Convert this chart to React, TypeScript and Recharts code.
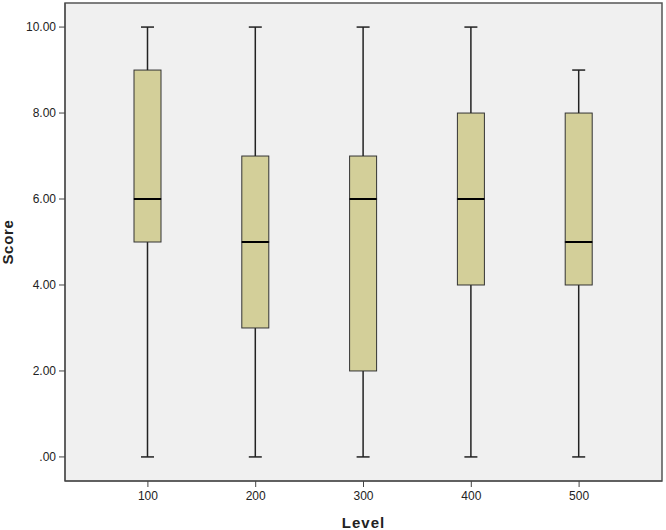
import {
  ComposedChart,
  Bar,
  XAxis,
  YAxis,
  CartesianGrid,
  ReferenceArea,
} from "recharts";

const levels = ["100", "200", "300", "400", "500"];
const mins = [0, 0, 0, 0, 0];
const q1s = [5, 3, 2, 4, 4];
const medians = [6, 5, 6, 6, 5];
const q3s = [9, 7, 7, 8, 8];
const maxs = [10, 10, 10, 10, 9];
const yTicks = [0, 2, 4, 6, 8, 10];
const yDomain = [-0.56, 10.56];

const data = levels.map((level, i) => ({
  level,
  base: mins[i],
  lowWhisker: q1s[i] - mins[i],
  lowBox: medians[i] - q1s[i],
  highBox: q3s[i] - medians[i],
  highWhisker: maxs[i] - q3s[i],
}));

const FONT = "'Liberation Sans', Arial, sans-serif";
const LINE = "#222";
const BOX_FILL = "#d3cf99";
const CAP = 13;

const LowWhisker = (p: any) => {
  const cx = p.x + p.width / 2;
  const bottom = p.y + p.height;
  return (
    <g>
      <line x1={cx} x2={cx} y1={p.y} y2={bottom} stroke={LINE} strokeWidth={1.5} />
      <line x1={cx - CAP / 2} x2={cx + CAP / 2} y1={bottom} y2={bottom} stroke={LINE} strokeWidth={1.5} />
    </g>
  );
};

const HighWhisker = (p: any) => {
  const cx = p.x + p.width / 2;
  return (
    <g>
      <line x1={cx} x2={cx} y1={p.y} y2={p.y + p.height} stroke={LINE} strokeWidth={1.5} />
      <line x1={cx - CAP / 2} x2={cx + CAP / 2} y1={p.y} y2={p.y} stroke={LINE} strokeWidth={1.5} />
    </g>
  );
};

const LowBox = (p: any) => (
  <rect x={p.x} y={p.y} width={p.width} height={p.height} fill={BOX_FILL} stroke="#333" strokeWidth={1} />
);

const HighBox = (p: any) => {
  const bottom = p.y + p.height;
  return (
    <g>
      <rect x={p.x} y={p.y} width={p.width} height={p.height} fill={BOX_FILL} stroke="#333" strokeWidth={1} />
      <line x1={p.x} x2={p.x + p.width} y1={bottom} y2={bottom} stroke="#000" strokeWidth={2} />
    </g>
  );
};

const fmt = (v: number) => (v === 0 ? ".00" : v.toFixed(2));

export default function App() {
  return (
    <div style={{ position: "absolute", left: 0, top: 0, background: "#fff" }}>
      <ComposedChart
        width={666}
        height={530}
        data={data}
        margin={{ top: 3, right: 4, bottom: 0, left: 0 }}
      >
        <CartesianGrid fill="#f0f0f0" horizontal={false} vertical={false} />
        <XAxis xAxisId="frame" dataKey="level" type="category" hide />
        <ReferenceArea
          xAxisId="frame"
          x1={levels[0]}
          x2={levels[levels.length - 1]}
          y1={yDomain[0]}
          y2={yDomain[1]}
          fill="none"
          fillOpacity={0}
          stroke="#555"
          strokeWidth={1.5}
          ifOverflow="visible"
        />
        <XAxis
          dataKey="level"
          type="category"
          padding={{ left: 29, right: 29 }}
          height={49}
          stroke="#444"
          tickSize={6}
          tickMargin={4}
          tick={{ fill: "#222", fontSize: 12, fontFamily: FONT }}
          label={{
            value: "Level",
            position: "insideBottom",
            offset: 2,
            style: { fontSize: 15, fontWeight: "bold", fill: "#222", fontFamily: FONT, letterSpacing: 1 },
          }}
        />
        <YAxis
          domain={yDomain}
          ticks={yTicks}
          tickFormatter={fmt}
          width={65}
          stroke="#444"
          tickSize={6}
          tickMargin={3}
          tick={{ fill: "#222", fontSize: 12, fontFamily: FONT }}
          label={{
            value: "Score",
            angle: -90,
            position: "insideLeft",
            offset: 8,
            style: { fontSize: 15, fontWeight: "bold", fill: "#222", fontFamily: FONT, textAnchor: "middle", letterSpacing: 0.7 },
          }}
        />
        <Bar dataKey="base" stackId="b" fill="transparent" barSize={27} isAnimationActive={false} />
        <Bar dataKey="lowWhisker" stackId="b" barSize={27} shape={LowWhisker} isAnimationActive={false} />
        <Bar dataKey="lowBox" stackId="b" barSize={27} shape={LowBox} isAnimationActive={false} />
        <Bar dataKey="highBox" stackId="b" barSize={27} shape={HighBox} isAnimationActive={false} />
        <Bar dataKey="highWhisker" stackId="b" barSize={27} shape={HighWhisker} isAnimationActive={false} />
      </ComposedChart>
    </div>
  );
}
